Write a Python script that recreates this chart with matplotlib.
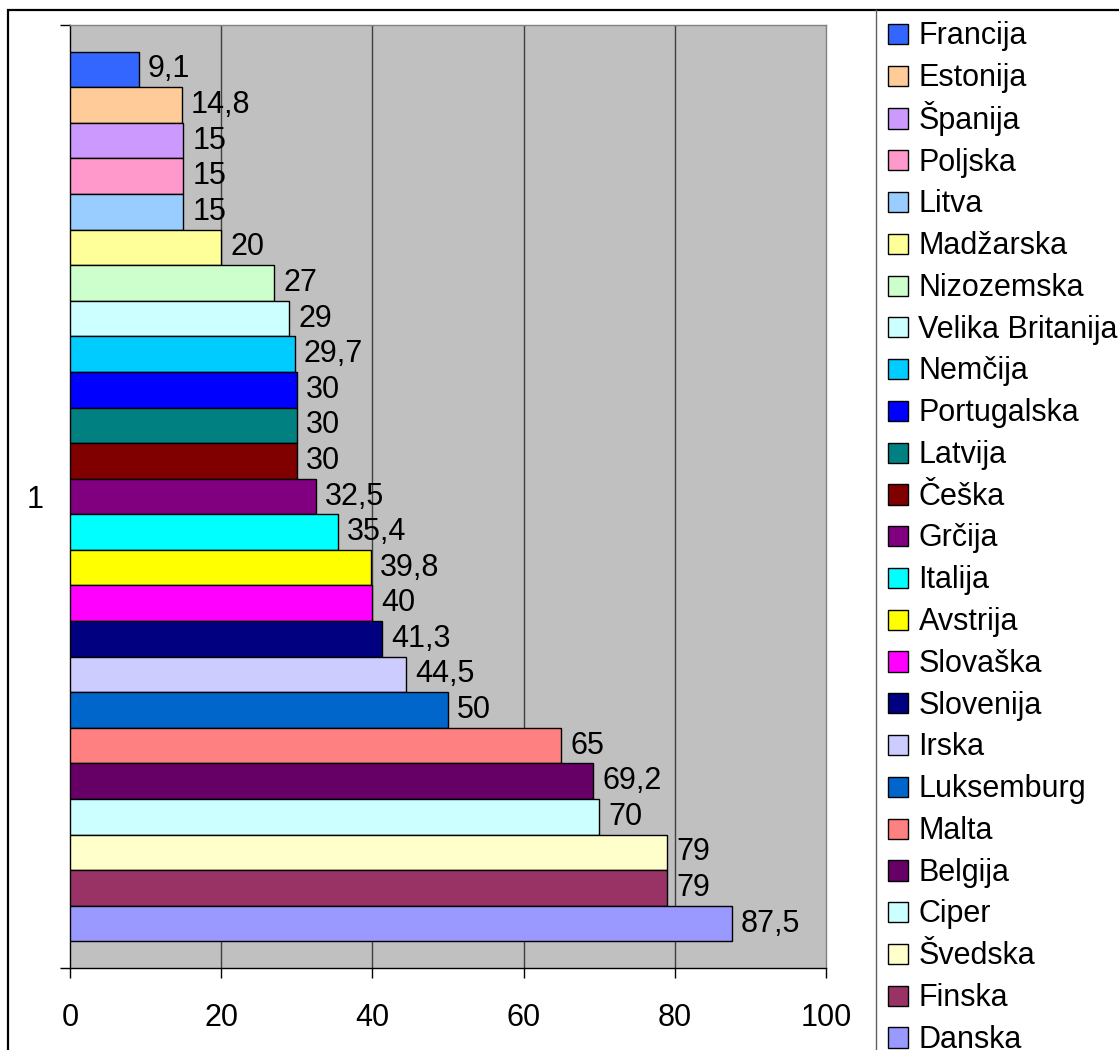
import matplotlib
matplotlib.use("Agg")
import matplotlib.pyplot as plt
from matplotlib.legend_handler import HandlerPatch
from matplotlib.lines import Line2D
from matplotlib.patches import Patch, Rectangle

plt.rcParams["font.family"] = ["Liberation Sans", "DejaVu Sans"]

countries = [
    "Francija", "Estonija", "Španija", "Poljska", "Litva", "Madžarska",
    "Nizozemska", "Velika Britanija", "Nemčija", "Portugalska", "Latvija",
    "Češka", "Grčija", "Italija", "Avstrija", "Slovaška", "Slovenija",
    "Irska", "Luksemburg", "Malta", "Belgija", "Ciper", "Švedska",
    "Finska", "Danska",
]
values = [
    9.1, 14.8, 15, 15, 15, 20, 27, 29, 29.7, 30, 30, 30, 32.5, 35.4,
    39.8, 40, 41.3, 44.5, 50, 65, 69.2, 70, 79, 79, 87.5,
]
colors = [
    "#3366FF", "#FFCC99", "#CC99FF", "#FF99CC", "#99CCFF", "#FFFF99",
    "#CCFFCC", "#CCFFFF", "#00CCFF", "#0000FF", "#008080", "#800000",
    "#800080", "#00FFFF", "#FFFF00", "#FF00FF", "#000080", "#CCCCFF",
    "#0066CC", "#FF8080", "#660066", "#CCFFFF", "#FFFFCC", "#993366",
    "#9999FF",
]
x_ticks = [0, 20, 40, 60, 80, 100]
category = "1"

W, H = 1119, 1050
FS = 22
SWATCH = 0.66  # legend square side, in font sizes


def fx(px):
    return px / W


def fy(py):
    return 1 - py / H


def square_swatch(legend, orig_handle, xdescent, ydescent, width, height, fontsize):
    side = SWATCH * fontsize
    return Rectangle((-xdescent, -ydescent + (height - side) / 2), side, side)


fig = plt.figure(figsize=(W / 100, H / 100), dpi=100)
ax = fig.add_axes([fx(70), fy(968), fx(826) - fx(70), fy(25) - fy(968)])
ax.set_facecolor("#C0C0C0")

pos = list(range(len(values)))
ax.barh(pos, values, height=1.0, color=colors, edgecolor="black",
        linewidth=1.0, zorder=3)
for p, v in zip(pos, values):
    label = f"{v:g}".replace(".", ",")
    ax.annotate(label, (v, p), xytext=(6.5, 0), textcoords="offset points",
                ha="left", va="center", fontsize=FS, zorder=4)

margin = 0.745
ax.set_ylim(len(values) - 0.5 + margin, -0.5 - margin)
ax.set_xlim(0, 100)

for t in x_ticks[1:-1]:
    ax.axvline(t, color="#404040", linewidth=1.0, zorder=1)

ax.set_xticks(x_ticks)
ax.set_xticklabels([str(t) for t in x_ticks], fontsize=FS)
ax.tick_params(axis="x", direction="out", length=7.5, width=1.0,
               pad=18, colors="black")

ax.set_yticks([(len(values) - 1) / 2])
ax.set_yticklabels([category], fontsize=FS)
ax.tick_params(axis="y", which="major", length=0, pad=19)
ax.set_yticks(list(ax.get_ylim()), minor=True)
ax.tick_params(axis="y", which="minor", direction="out", length=7.5, width=1.0)

ax.spines["left"].set_color("black")
ax.spines["bottom"].set_color("black")
ax.spines["top"].set_color("#808080")
ax.spines["right"].set_color("#808080")
for s in ax.spines.values():
    s.set_linewidth(1.0)

# outer frame and legend panel edge
fig.add_artist(Rectangle((fx(8), fy(1060)), fx(1130) - fx(8), fy(10) - fy(1060),
                         transform=fig.transFigure, fill=False,
                         edgecolor="black", linewidth=1.6))
fig.add_artist(Line2D([fx(876), fx(876)], [fy(10), fy(1060)],
                      transform=fig.transFigure, color="#606060", linewidth=1.0))

handles = [Patch(facecolor=c, edgecolor="black", linewidth=1.0) for c in colors]
fig.legend(handles, countries, loc="upper left",
           bbox_to_anchor=(fx(876), fy(5)), frameon=False, fontsize=FS,
           handler_map={Patch: HandlerPatch(patch_func=square_swatch)},
           handlelength=SWATCH, handleheight=1.3, handletextpad=0.33,
           labelspacing=0.258, borderpad=0.4, borderaxespad=0)

fig.savefig("out.png", dpi=100)
